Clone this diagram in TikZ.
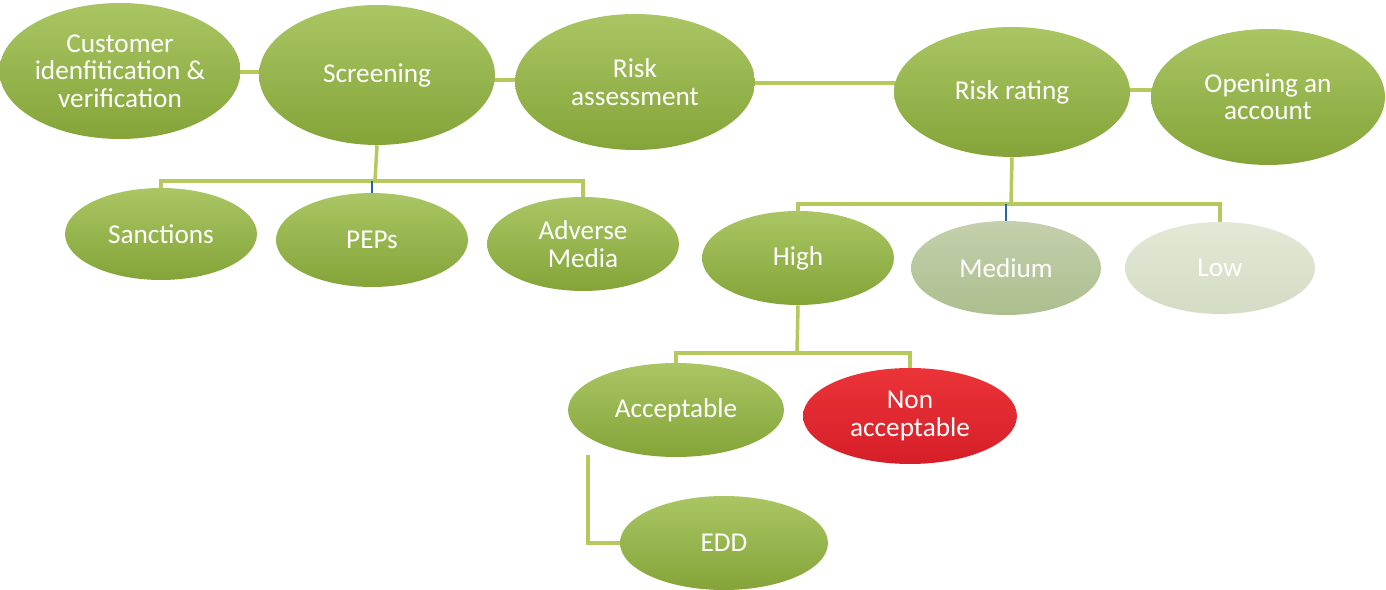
\documentclass[tikz,border=0pt]{standalone}
\usepackage{fontspec}
\setmainfont{Carlito}
\usetikzlibrary{shapes.geometric,backgrounds,calc}
\definecolor{gtop}{RGB}{170,198,100}
\definecolor{gbot}{RGB}{132,164,56}
\definecolor{mtop}{RGB}{196,208,172}
\definecolor{mbot}{RGB}{172,190,142}
\definecolor{ltop}{RGB}{228,232,214}
\definecolor{lbot}{RGB}{212,220,196}
\definecolor{rtop}{RGB}{234,52,56}
\definecolor{rbot}{RGB}{214,30,40}
\definecolor{conncol}{RGB}{181,201,92}
\definecolor{bluecol}{RGB}{40,100,170}
\tikzset{
  ell/.style 2 args={ellipse, inner sep=0pt, minimum width=#1*0.04cm, minimum height=#2*0.04cm,
    text=white, align=center, font=\fontsize{15.5}{15.6}\selectfont},
  greenell/.style={top color=gtop, bottom color=gbot},
  medell/.style={top color=mtop, bottom color=mbot},
  lowell/.style={top color=ltop, bottom color=lbot},
  redell/.style={top color=rtop, bottom color=rbot},
  conn/.style={draw=conncol, line width=2pt},
  blueconn/.style={draw=bluecol, line width=1.2pt}
}
\begin{document}
\begin{tikzpicture}[x=0.02cm,y=-0.02cm]
\useasboundingbox (0,0) rectangle (1386,590);
% top row
\node[ell={118}{68}, greenell] (cust) at (120,71) {Customer\\idenfitication \&\\verification};
\node[ell={118}{70}, greenell] (scr) at (377,75) {Screening};
\node[ell={120}{68}, greenell] (ra) at (635,82) {Risk\\assessment};
\node[ell={118}{65}, greenell] (rr) at (1012,92) {Risk rating};
\node[ell={117}{68}, greenell] (open) at (1268,97) {Opening an\\account};
% screening children
\node[ell={96}{46}, greenell] (sanc) at (161,234) {Sanctions};
\node[ell={96}{47}, greenell] (peps) at (372,240) {PEPs};
\node[ell={96}{47}, greenell] (adv) at (583,244) {Adverse\\Media};
% rating children
\node[ell={96}{47}, greenell] (high) at (798,258) {High};
\node[ell={95}{47}, medell] (med) at (1006,268) {Medium};
\node[ell={95}{46}, lowell] (low) at (1220,268) {Low};
% high children
\node[ell={108}{47}, greenell] (acc) at (676,410) {Acceptable};
\node[ell={107}{48}, redell] (non) at (910,416) {Non\\acceptable};
\node[ell={104}{47}, greenell] (edd) at (724,543) {EDD};
% connectors
\coordinate (h1) at (0,72);
\coordinate (h2) at (0,80);
\coordinate (h3) at (0,83);
\coordinate (h4) at (0,90);
\coordinate (b1) at (375,181);
\coordinate (b2) at (1011,204);
\coordinate (b3) at (797,353);
\coordinate (e1) at (588,455);
\begin{scope}[on background layer]
  \fill[white] (0,0) rectangle (1386,590);
  \draw[conn] (cust.center |- h1) -- (scr.center |- h1);
  \draw[conn] (scr.center |- h2) -- (ra.center |- h2);
  \draw[conn] (ra.center |- h3) -- (rr.center |- h3);
  \draw[conn] (rr.center |- h4) -- (open.center |- h4);
  \draw[conn] (scr.south) -- (b1);
  \draw[conn] (sanc.north) |- (b1 -| adv.north) -- (adv.north);
  \draw[blueconn] (b1 -| peps.north) -- (peps.north);
  \draw[conn] (rr.south) -- (b2);
  \draw[conn] (high.north) |- (b2 -| low.north) -- (low.north);
  \draw[blueconn] (b2 -| med.north) -- (med.north);
  \draw[conn] (high.south) -- (b3);
  \draw[conn] (acc.north) |- (b3 -| non.north) -- (non.north);
  \draw[conn] (e1) |- (edd.west);
\end{scope}
\end{tikzpicture}
\end{document}
